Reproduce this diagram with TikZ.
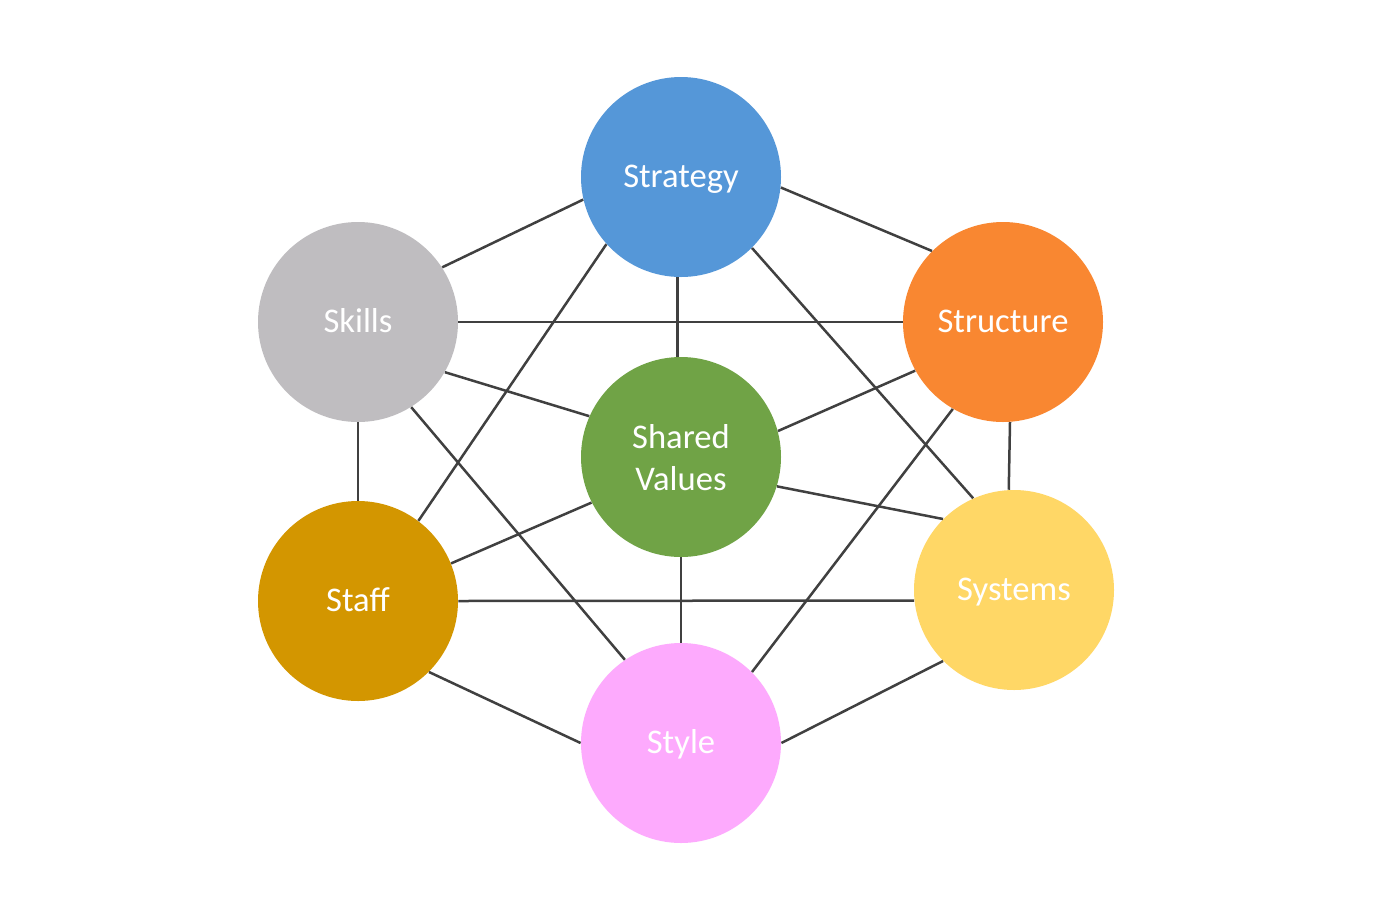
\documentclass[tikz,border=0pt]{standalone}
\usepackage{fontspec}
\setmainfont{Carlito}
\definecolor{cstrat}{HTML}{5597D8}
\definecolor{cstruc}{HTML}{F98731}
\definecolor{cskill}{HTML}{BFBDC0}
\definecolor{cshared}{HTML}{70A346}
\definecolor{cstaff}{HTML}{D39600}
\definecolor{csys}{HTML}{FFD766}
\definecolor{cstyle}{HTML}{FDAAFD}
\definecolor{cline}{HTML}{404040}
\newcommand\lowr[1]{\raisebox{-2pt}[\height][\depth]{#1}}
\begin{document}
\begin{tikzpicture}[x=0.5pt,y=-0.5pt,
  sbase/.style={circle,minimum size=100pt,inner sep=0pt,text=white,
    font=\fontsize{17.3}{21}\selectfont,align=center},
  sball/.style={sbase,text height=10.4pt,text depth=0pt},
  link/.style={draw=cline,line width=1.25pt}]
\useasboundingbox[fill=white] (0,0) rectangle (1376,922);
\node[sball,fill=cstrat]  (strategy)  at (681,177) {Strategy};
\node[sball,fill=cstruc]  (structure) at (1003,322) {Structure};
\node[sball,fill=cskill]  (skills)    at (358,322) {Skills};
\node[sbase,fill=cshared] (shared)    at (681,457) {\lowr{\begin{tabular}{@{}c@{}}Shared\\Values\end{tabular}}};
\node[sball,fill=cstaff]  (staff)     at (358,601) {Staff};
\node[sball,fill=csys]    (systems)   at (1014,590) {Systems};
\node[sball,fill=cstyle]  (style)     at (681,743) {Style};
% connectors
\draw[link] (strategy.-6.7) -- (structure.north west);
\draw[link] (strategy.193.4) -- (skills.33.7);
\draw[link] (strategy.222.1) -- (staff.53.1);
\draw[link] (strategy.-92.5) -- (shared.92.5);
\draw[link] (strategy.south east) -- (systems.114.2);
\draw[link] (skills.east) -- (structure.west);
\draw[link] (skills.-30.5) -- (shared.156.8);
\draw[link] (skills.south) -- (staff.north);
\draw[link] (skills.-58.8) -- (style.124.7);
\draw[link] (staff.22.3) -- (shared.207);
\draw[link] (staff.east) -- (systems.186.3);
\draw[link] (staff.south east) -- (style.west);
\draw[link] (shared.15.6) -- (structure.209.5);
\draw[link] (shared.-17.4) -- (systems.north west);
\draw[link] (shared.south) -- (style.north);
\draw[link] (structure.-86.6) -- (systems.93.0);
\draw[link] (structure.240.5) -- (style.north east);
\draw[link] (style.east) -- (systems.south west);
\end{tikzpicture}
\end{document}
